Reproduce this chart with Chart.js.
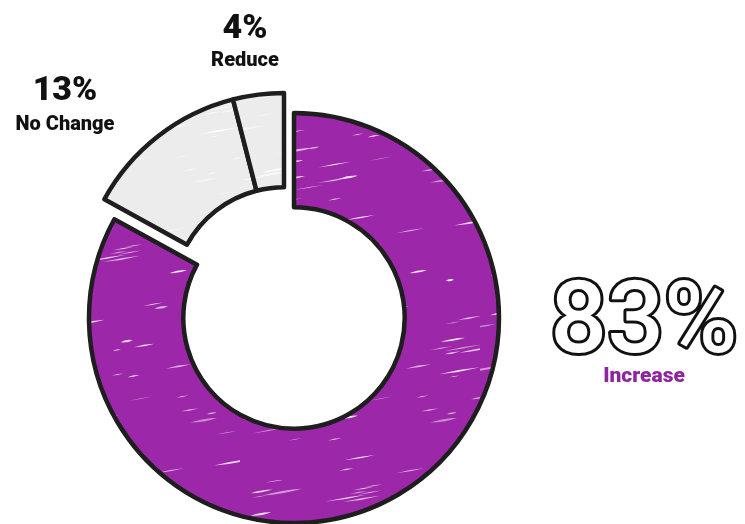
<!DOCTYPE html>
<html>
<head>
<meta charset="utf-8">
<script src="https://cdn.jsdelivr.net/npm/chart.js@4.4.1/dist/chart.umd.min.js"></script>
<style>
    html, body { margin: 0; padding: 0; background: #ffffff; }
    #wrap { width: 745px; height: 524px; }
</style>
</head>
<body>
<div id="wrap"><canvas id="encuesta" width="745" height="524"></canvas></div>
<script>
// Datos de la encuesta
const categorias = ['Increase', 'No Change', 'Reduce'];
const porcentajes = [83, 13, 4];
const coloresBase = ['#9c27a8', '#ececec', '#ececec'];
const colorEtiquetas = ['#8e24a0', '#111111', '#111111'];

// Los segmentos grises se separan juntos del anillo (dx, dy en px)
const separacionGris = { x: -10, y: -20 };

// Textura de trazos blancos (estilo boceto) sobre un color base
function texturaBoceto(color) {
    const t = document.createElement('canvas');
    t.width = 240;
    t.height = 240;
    const g = t.getContext('2d');
    g.fillStyle = color;
    g.fillRect(0, 0, t.width, t.height);
    let semilla = 7;
    const azar = function () {
        semilla = (semilla * 9301 + 49297) % 233280;
        return semilla / 233280;
    };
    for (let i = 0; i < 70; i++) {
        const x = azar() * t.width;
        const y = azar() * t.height;
        const largo = 8 + azar() * 34;
        const grosor = 0.6 + azar() * 1.8;
        g.save();
        g.translate(x, y);
        g.rotate(-0.17);
        g.globalAlpha = 0.45 + azar() * 0.55;
        g.fillStyle = '#ffffff';
        g.beginPath();
        g.moveTo(-largo / 2, 0);
        g.quadraticCurveTo(0, -grosor, largo / 2, 0);
        g.quadraticCurveTo(0, grosor, -largo / 2, 0);
        g.fill();
        g.restore();
    }
    return g.createPattern(t, 'repeat');
}

// Desplaza en bloque los arcos de "No Change" y "Reduce"
const separarPlugin = {
    id: 'separar',
    afterDatasetsUpdate(chart) {
        const arcos = chart.getDatasetMeta(0).data;
        [1, 2].forEach(i => {
            arcos[i].x += separacionGris.x;
            arcos[i].y += separacionGris.y;
        });
    }
};

// Etiquetas de porcentaje alrededor del anillo
const etiquetasPlugin = {
    id: 'etiquetas',
    afterDraw(chart) {
        const ctx = chart.ctx;
        ctx.save();
        ctx.textAlign = 'center';
        ctx.textBaseline = 'alphabetic';

        // Reduce
        ctx.fillStyle = colorEtiquetas[2];
        ctx.font = '900 34px Roboto';
        ctx.fillText(porcentajes[2] + '%', 245, 38);
        ctx.font = '900 20px Roboto';
        ctx.fillText(categorias[2], 245, 66);

        // No Change
        ctx.fillStyle = colorEtiquetas[1];
        ctx.font = '900 34px Roboto';
        ctx.fillText(porcentajes[1] + '%', 65, 100);
        ctx.font = '900 20px Roboto';
        ctx.fillText(categorias[1], 65, 130);

        // Increase: numero grande con contorno
        ctx.font = '500 100px Roboto';
        ctx.lineJoin = 'round';
        ctx.lineWidth = 6;
        ctx.strokeStyle = '#111111';
        ctx.strokeText(porcentajes[0] + '%', 644, 352);
        ctx.fillStyle = '#ffffff';
        ctx.fillText(porcentajes[0] + '%', 644, 352);
        ctx.fillStyle = colorEtiquetas[0];
        ctx.font = '900 21px Roboto';
        ctx.fillText(categorias[0], 644, 382);
        ctx.restore();
    }
};

const ctx = document.getElementById('encuesta').getContext('2d');
window.encuestaChart = new Chart(ctx, {
    type: 'doughnut',
    data: {
        labels: categorias,
        datasets: [{
            data: porcentajes,
            backgroundColor: coloresBase.map(texturaBoceto),
            borderColor: '#1e1e1e',
            borderWidth: 4.5,
            borderJoinStyle: 'round'
        }]
    },
    options: {
        responsive: false,
        animation: false,
        radius: 205,
        cutout: '54%',
        layout: {
            padding: { left: 0, right: 157, top: 112, bottom: 0 }
        },
        plugins: {
            legend: { display: false },
            tooltip: { enabled: false }
        }
    },
    plugins: [separarPlugin, etiquetasPlugin]
});
</script>
</body>
</html>
